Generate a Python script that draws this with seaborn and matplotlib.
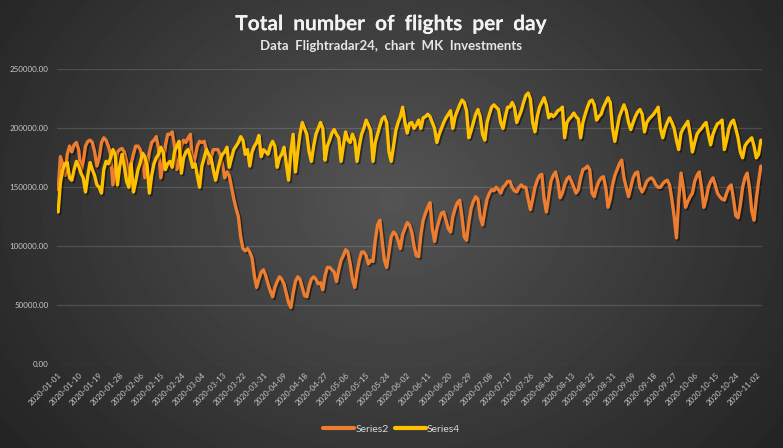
import numpy as np
import pandas as pd
import matplotlib
matplotlib.use("Agg")
import matplotlib.pyplot as plt
import matplotlib.patheffects as pe
from matplotlib.lines import Line2D
import seaborn as sns

# Daily flights (thousands), one row per week starting 2020-01-01
start_date = "2020-01-01"
tick_step_days = 9

series2 = [
    148, 176, 170, 160, 178, 185, 180,
    186, 188, 182, 163, 172, 185, 189,
    190, 188, 180, 168, 175, 188, 192,
    190, 185, 178, 152, 165, 180, 182,
    183, 180, 172, 155, 170, 178, 185,
    185, 182, 175, 158, 168, 180, 188,
    190, 193, 183, 158, 170, 185, 195,
    195, 197, 185, 165, 172, 185, 190,
    188, 192, 195, 167, 175, 185, 189,
    188, 189, 182, 170, 175, 182, 182,
    182, 178, 170, 158, 163, 160, 150,
    140, 132, 125, 108, 98, 96, 98,
    95, 90, 75, 65, 72, 78, 80,
    75, 68, 62, 57, 65, 70, 74,
    72, 68, 60, 52, 48, 60, 70,
    74, 72, 65, 58, 57, 66, 72,
    74, 72, 68, 69, 63, 75, 82,
    82, 80, 78, 70, 80, 88, 92,
    97, 95, 85, 72, 65, 78, 88,
    95, 95, 92, 85, 88, 87, 105,
    118, 122, 105, 88, 82, 95, 108,
    112, 110, 105, 98, 110, 115, 120,
    118, 112, 100, 92, 91, 110, 122,
    128, 133, 137, 115, 104, 115, 122,
    128, 129, 122, 115, 112, 125, 132,
    137, 139, 125, 108, 105, 120, 132,
    138, 142, 140, 125, 118, 130, 140,
    145, 148, 147, 150, 148, 145, 150,
    152, 155, 155, 150, 147, 146, 150,
    152, 150, 150, 140, 131, 140, 150,
    156, 160, 161, 140, 129, 142, 155,
    160, 163, 155, 141, 145, 152, 157,
    159, 155, 150, 145, 148, 158, 165,
    166, 168, 165, 145, 142, 150, 155,
    158, 159, 150, 133, 140, 152, 160,
    165, 170, 173, 158, 150, 142, 150,
    158, 162, 163, 150, 146, 150, 155,
    157, 158, 156, 152, 150, 150, 153,
    155, 156, 152, 140, 125, 107, 140,
    162, 150, 133, 138, 142, 145, 155,
    160, 163, 150, 133, 140, 150, 155,
    158, 152, 145, 142, 140, 139, 145,
    150, 152, 140, 126, 124, 135, 150,
    158, 162, 150, 130, 122, 140, 155,
    168,
]

series4 = [
    129, 154, 165, 170, 171, 158, 156,
    165, 172, 168, 162, 158, 146, 160,
    171, 165, 160, 152, 150, 145, 165,
    172, 170, 175, 182, 178, 152, 168,
    178, 168, 155, 150, 170, 146, 155,
    165, 171, 179, 176, 168, 145, 160,
    170, 175, 178, 184, 180, 165, 170,
    172, 167, 180, 185, 189, 162, 175,
    180, 182, 175, 167, 170, 160, 150,
    168, 175, 182, 178, 175, 165, 156,
    165, 173, 178, 180, 184, 167, 175,
    182, 185, 188, 193, 190, 178, 182,
    168, 180, 185, 188, 194, 176, 182,
    180, 178, 185, 189, 185, 167, 175,
    178, 184, 170, 156, 180, 195, 163,
    180, 195, 205, 200, 195, 180, 172,
    185, 195, 200, 205, 200, 173, 185,
    190, 196, 199, 195, 192, 172, 185,
    197, 190, 188, 195, 190, 172, 185,
    195, 200, 207, 203, 198, 172, 188,
    195, 202, 208, 210, 205, 180, 172,
    185, 198, 205, 210, 218, 205, 196,
    204, 205, 200, 203, 207, 200, 209,
    210, 212, 210, 205, 200, 188, 195,
    200, 205, 209, 212, 215, 200, 210,
    215, 220, 224, 222, 215, 192, 198,
    205, 212, 216, 210, 195, 190, 205,
    212, 218, 220, 218, 216, 205, 200,
    210, 218, 218, 222, 218, 205, 210,
    215, 222, 228, 230, 225, 205, 197,
    210, 218, 222, 226, 220, 209, 212,
    210, 212, 215, 216, 218, 192, 205,
    208, 210, 213, 210, 208, 192, 205,
    212, 218, 223, 224, 220, 207, 210,
    212, 218, 222, 226, 222, 200, 189,
    200, 210, 215, 220, 215, 205, 199,
    205, 210, 214, 216, 212, 197, 205,
    208, 210, 212, 215, 218, 200, 192,
    200, 205, 209, 205, 200, 190, 182,
    196, 200, 203, 206, 195, 180, 188,
    195, 198, 200, 203, 205, 195, 186,
    195, 200, 204, 205, 207, 182, 190,
    200, 205, 207, 200, 192, 180, 175,
    185, 188, 190, 192, 185, 175, 178,
    190,
]

series_colors = {"Series2": "#ED7D31", "Series4": "#FFC000"}

# Data preparation
dates = pd.date_range(start_date, periods=len(series2), freq="D")
df = pd.DataFrame({
    "date": dates,
    "Series2": np.array(series2) * 1000.0,
    "Series4": np.array(series4) * 1000.0,
})
long_df = df.melt(id_vars="date", var_name="series", value_name="flights")

sns.set_theme(style="dark")
plt.rcParams["font.family"] = ["Lato", "DejaVu Sans"]

fig = plt.figure(figsize=(7.83, 4.48), dpi=100)

# Radial dark background
bg = fig.add_axes([0, 0, 1, 1], zorder=-10)
yy, xx = np.mgrid[0:448, 0:783]
r = np.sqrt(((xx - 391) / 520.0) ** 2 + ((yy - 200) / 420.0) ** 2)
shade = np.clip(0.33 - 0.2 * r, 0, 1)
bg.imshow(shade, cmap="gray", vmin=0, vmax=1, aspect="auto", interpolation="bilinear")
bg.axis("off")

ax = fig.add_axes([0.0728, 0.1875, 0.9004, 0.6574])
ax.patch.set_alpha(0)

sns.lineplot(data=long_df, x="date", y="flights", hue="series",
             palette=series_colors, linewidth=2.4, ax=ax, legend=False)

for line in ax.lines:
    line.set_solid_capstyle("round")
    line.set_solid_joinstyle("round")
    line.set_path_effects([
        pe.SimpleLineShadow(offset=(1.2, -1.2), shadow_color="black", alpha=0.45),
        pe.Normal(),
    ])

# Axes formatting
ax.set_ylim(0, 250000)
ax.set_yticks(np.arange(0, 250001, 50000))
ax.yaxis.set_major_formatter(matplotlib.ticker.FuncFormatter(lambda v, p: f"{v:.2f}"))
half_day = pd.Timedelta(hours=12)
ax.set_xlim(dates[0] - half_day, dates[-1] + half_day)
tick_dates = pd.date_range(start_date, dates[-1], freq=f"{tick_step_days}D")
ax.set_xticks(tick_dates)
ax.set_xticklabels([d.strftime("%Y-%m-%d") for d in tick_dates],
                   rotation=45, ha="right", va="top", rotation_mode="anchor")

ax.grid(False)
ax.yaxis.grid(True, color="#ffffff", alpha=0.14, linewidth=0.9)
ax.set_axisbelow(True)
for s in ax.spines.values():
    s.set_visible(False)
ax.tick_params(axis="both", length=0, colors="#c8c8c8", labelsize=5.8)
ax.tick_params(axis="y", pad=6)
ax.tick_params(axis="x", pad=5)
ax.set_xlabel("")
ax.set_ylabel("")

# Titles
shadow = [pe.withSimplePatchShadow(offset=(1, -1), shadow_rgbFace="black", alpha=0.4)]
fig.text(0.5, 0.946, "Total  number  of  flights  per  day", ha="center", va="center",
         fontsize=15, fontweight="bold", color="#f2f2f2",
         path_effects=[pe.withStroke(linewidth=0, foreground="black")])
fig.text(0.5, 0.897, "Data  Flightradar24,  chart  MK  Investments", ha="center", va="center",
         fontsize=9.5, fontweight="bold", color="#e6e6e6")

# Legend
handles = [Line2D([0], [0], color=series_colors[k], lw=3) for k in ["Series2", "Series4"]]
fig.legend(handles, ["Series2", "Series4"], loc="center", bbox_to_anchor=(0.5, 0.042),
           ncol=2, frameon=False, fontsize=7.5, handlelength=3, handletextpad=0.1,
           columnspacing=0.6, labelcolor="#d9d9d9")

fig.savefig("out.png", dpi=100)
